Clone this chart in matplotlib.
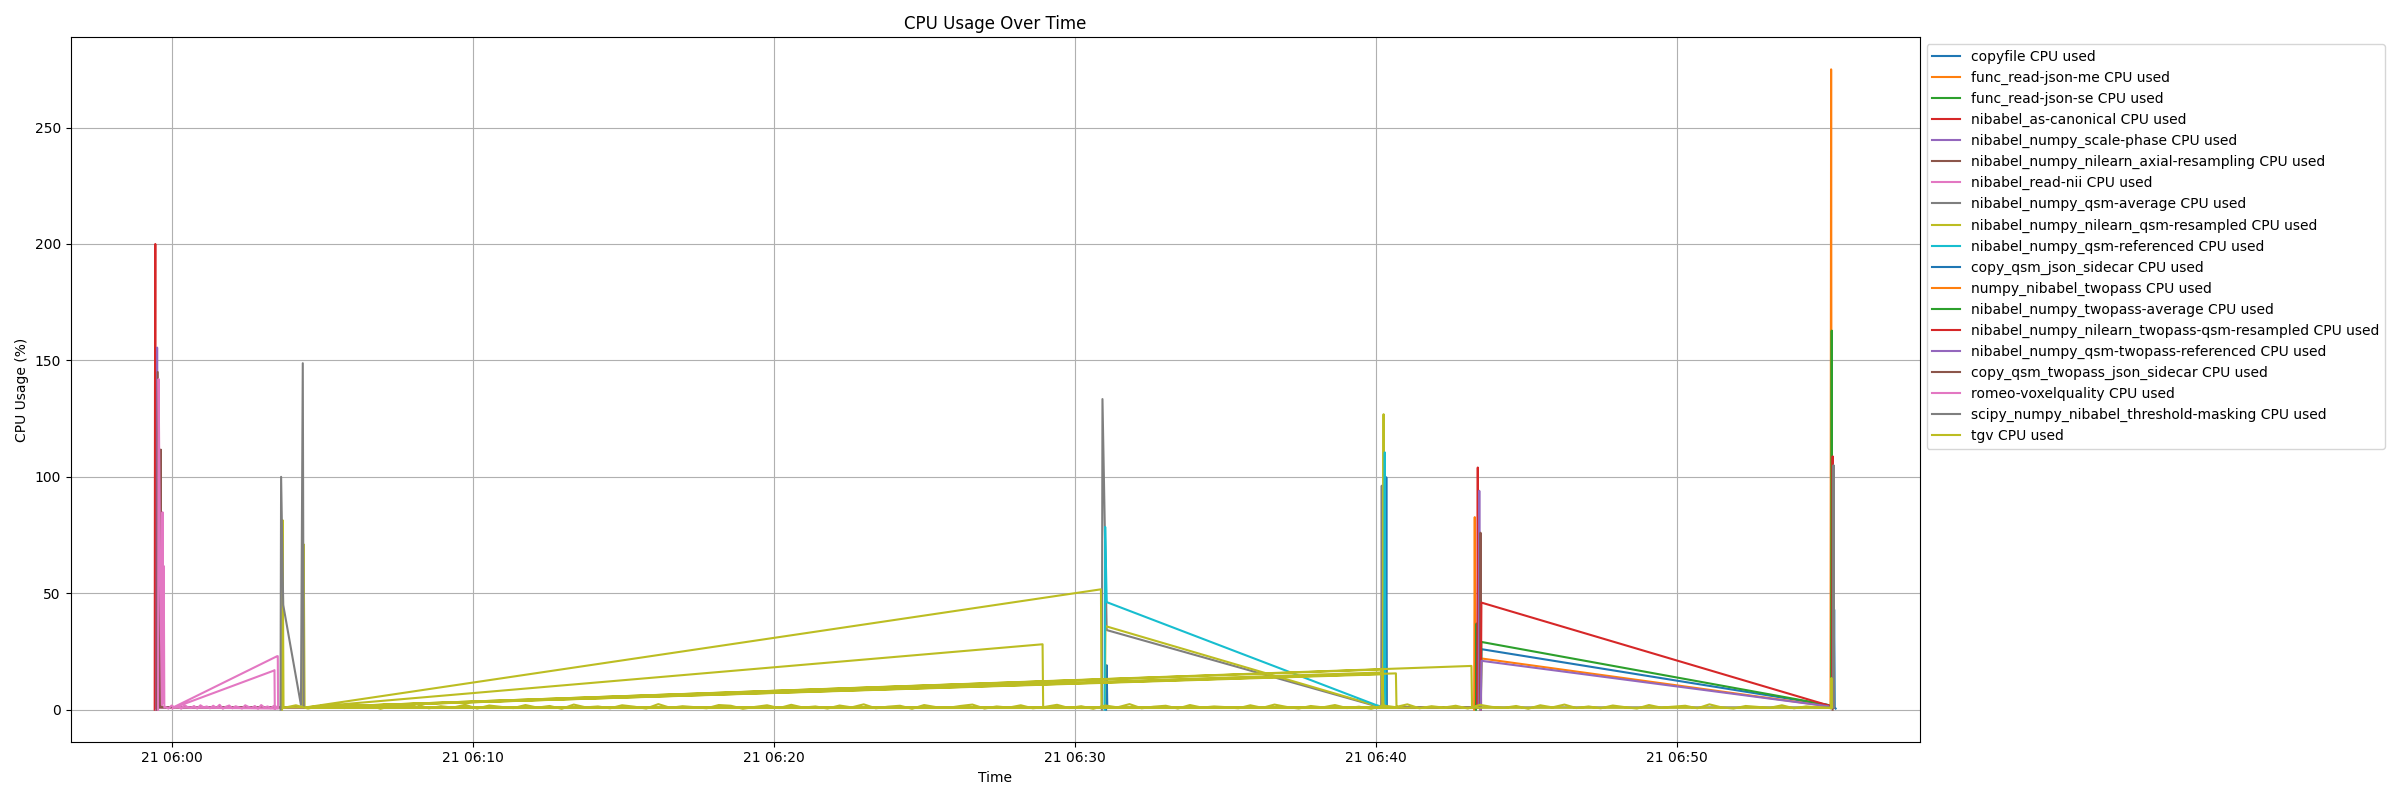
import matplotlib

matplotlib.use("Agg")
import matplotlib.pyplot as plt  # noqa: E402
import numpy as np  # noqa: E402
import pandas as pd  # noqa: E402

# Minutes after 06:00 on the 21st, and CPU % at each sample.
START = pd.Timestamp("2023-11-21 06:00:00")

copyfile_t = [31.04, 31.06, 31.08, 40.33, 40.35, 40.37]
copyfile_v = [0, 19.1, 1, 1, 99.8, 1]

read_json_me_t = [43.27, 43.29, 43.31]
read_json_me_v = [0, 82.7, 1]

read_json_se_t = [43.33, 43.35, 43.37]
read_json_se_v = [0, 37, 1]

as_canonical_t = [-0.57, -0.56, -0.55, -0.54, 43.37, 43.39, 43.41]
as_canonical_v = [0, 138, 200, 1, 1, 104, 1]

scale_phase_t = [-0.51, -0.49, -0.47, 43.42, 43.44, 43.46]
scale_phase_v = [0, 155.5, 1, 1, 94, 1]

axial_resampling_t = [-0.49, -0.47, -0.42, -0.39, -0.37, -0.35, 43.46, 43.48, 43.50]
axial_resampling_v = [0, 145, 1, 1, 111.7, 1, 1, 76, 1]

read_nii_spike_t = [-0.46, -0.44, -0.39, -0.33, -0.31, -0.29, -0.27, -0.25]
read_nii_spike_v = [0, 142, 60, 2, 84.8, 3, 61.7, 1]
read_nii_band_v = [
    1.2, 0.5, 1.8, 0.9, 1.5, 0.4, 2.0, 1.1, 0.7, 1.6,
    0.5, 1.9, 1.0, 1.4, 0.6, 1.7, 0.8, 2.1, 0.4, 1.3,
    1.8, 0.6, 1.5, 1.0, 0.5, 1.9, 1.2, 0.7, 1.6, 0.4,
    2.0, 0.9, 1.4, 0.6, 1.7, 1.1,
]

qsm_average_t = [30.90, 30.92, 31.06, 39.89, 40.18, 40.20, 40.22]
qsm_average_v = [0, 133.4, 34.2, 2, 1, 96.2, 1]

qsm_resampled_t = [3.66, 3.68, 3.71, 4.36, 4.38, 4.41, 31.00, 31.02, 39.95, 40.24, 40.26, 40.28]
qsm_resampled_v = [0, 81.4, 1, 1, 71, 1, 1, 35.9, 2, 1, 126.9, 1]

qsm_referenced_t = [30.99, 31.01, 31.06, 40.01, 40.28, 40.30, 40.32]
qsm_referenced_v = [0, 78.5, 46.2, 2, 1, 110.5, 1]

copy_json_t = [43.49, 43.51, 55.04, 55.21, 55.23, 55.25, 55.28]
copy_json_v = [0, 26, 2, 1, 43, 1, 0.5]

twopass_t = [43.49, 43.51, 55.04, 55.11, 55.13, 55.15]
twopass_v = [0, 22, 1.5, 1, 275, 1]

twopass_average_t = [43.49, 43.51, 55.04, 55.13, 55.15, 55.17]
twopass_average_v = [0, 29.1, 2, 1, 162.8, 1]

twopass_resampled_t = [43.49, 43.51, 55.08, 55.16, 55.18, 55.19, 55.21]
twopass_resampled_v = [0, 46, 1.7, 1, 108.8, 89, 1]

twopass_referenced_t = [43.49, 43.51, 55.02]
twopass_referenced_v = [0, 21, 1.5]

copy_twopass_json_t = [55.18, 55.20, 55.22]
copy_twopass_json_v = [0, 100, 1]

romeo_t = [0.02, 0.05, 3.50, 3.52, 3.53, 0.10, 3.39, 3.41, 3.42]
romeo_v = [0.5, 1.0, 23.0, 23.0, 0.5, 1.0, 16.8, 17.0, 0.5]

masking_t = [3.61, 3.63, 3.70, 4.29, 4.35, 4.38, 55.19, 55.21, 55.23]
masking_v = [0, 100, 45, 2, 148.8, 1, 1, 105, 1]

# tgv: steady low samples from 06:03:43 to 06:55, then the out-of-order rows
tgv_band_v = [
    0.8, 1.9, 0.5, 1.6, 2.2, 0.7, 1.3, 2.0, 0.4, 1.7,
    1.1, 2.3, 0.6, 1.5, 0.9, 2.1, 0.5, 1.8, 1.2, 0.7,
    2.0, 0.9, 1.6, 0.4, 2.2, 1.0, 1.4, 0.6, 1.9, 1.3,
    0.5, 2.4, 0.8, 1.5, 1.1, 0.6, 2.0, 1.7, 0.4, 1.2,
    1.9, 0.7, 2.1, 0.9, 1.4, 0.5, 1.8, 1.0, 2.3, 0.6,
    1.3, 1.7, 0.4, 2.0, 1.1, 0.8, 1.6, 2.2, 0.5, 1.4,
    0.9, 1.9, 0.6, 1.2, 2.1, 0.7, 1.5, 0.4, 1.8, 1.0,
    2.4, 0.6, 1.3, 1.7, 0.5, 2.0, 0.9, 1.4, 1.1, 0.6,
    1.9, 0.8, 2.2, 1.2, 0.5, 1.6, 1.0, 2.0, 0.7, 1.3,
    0.4, 1.8, 1.1, 2.3, 0.6, 1.5, 0.9, 1.7, 0.5, 2.1,
    1.2, 0.8, 1.6, 0.4, 1.9, 1.0, 2.2, 0.7, 1.4, 0.6,
    1.8, 1.1, 0.5, 2.0, 0.9, 1.3, 1.7, 0.6, 2.3, 1.0,
    0.5, 1.6, 1.2, 0.8, 1.9, 0.6, 1.4, 1.0, 0.7,
]
tgv_tail_t = [55.12, 55.14, 55.16, 4.45, 30.87, 30.89, 4.46, 28.93, 28.95,
              4.47, 40.23, 40.25, 4.48, 40.23, 40.25, 4.49, 40.20, 40.22,
              4.50, 40.67, 40.69, 4.51, 43.18, 43.20]
tgv_tail_v = [0.5, 13.6, 0.8, 1.0, 51.7, 0.8, 1.0, 28.1, 0.8,
              1.0, 17.3, 0.8, 1.0, 16.0, 0.8, 1.0, 15.2, 0.8,
              1.0, 15.6, 0.8, 1.0, 18.8, 0.8]

read_nii_t = read_nii_spike_t + list(np.linspace(-0.22, 3.50, len(read_nii_band_v)))
read_nii_v = read_nii_spike_v + read_nii_band_v
tgv_t = list(np.linspace(3.72, 55.10, len(tgv_band_v))) + tgv_tail_t
tgv_v = tgv_band_v + tgv_tail_v

series = [
    ("copyfile", copyfile_t, copyfile_v),
    ("func_read-json-me", read_json_me_t, read_json_me_v),
    ("func_read-json-se", read_json_se_t, read_json_se_v),
    ("nibabel_as-canonical", as_canonical_t, as_canonical_v),
    ("nibabel_numpy_scale-phase", scale_phase_t, scale_phase_v),
    ("nibabel_numpy_nilearn_axial-resampling", axial_resampling_t, axial_resampling_v),
    ("nibabel_read-nii", read_nii_t, read_nii_v),
    ("nibabel_numpy_qsm-average", qsm_average_t, qsm_average_v),
    ("nibabel_numpy_nilearn_qsm-resampled", qsm_resampled_t, qsm_resampled_v),
    ("nibabel_numpy_qsm-referenced", qsm_referenced_t, qsm_referenced_v),
    ("copy_qsm_json_sidecar", copy_json_t, copy_json_v),
    ("numpy_nibabel_twopass", twopass_t, twopass_v),
    ("nibabel_numpy_twopass-average", twopass_average_t, twopass_average_v),
    ("nibabel_numpy_nilearn_twopass-qsm-resampled", twopass_resampled_t, twopass_resampled_v),
    ("nibabel_numpy_qsm-twopass-referenced", twopass_referenced_t, twopass_referenced_v),
    ("copy_qsm_twopass_json_sidecar", copy_twopass_json_t, copy_twopass_json_v),
    ("romeo-voxelquality", romeo_t, romeo_v),
    ("scipy_numpy_nibabel_threshold-masking", masking_t, masking_v),
    ("tgv", tgv_t, tgv_v),
]

fig, ax = plt.subplots(figsize=(24, 8), dpi=100)
for name, t, v in series:
    times = START + pd.to_timedelta(np.asarray(t, dtype=float), unit="m")
    ax.plot(times, v, label=f"{name} CPU used")

ax.set_title("CPU Usage Over Time")
ax.set_xlabel("Time")
ax.set_ylabel("CPU Usage (%)")
ax.grid(True)
ax.legend(loc="upper left", bbox_to_anchor=(1, 1))
fig.tight_layout()
fig.savefig("out.png", dpi=100)
